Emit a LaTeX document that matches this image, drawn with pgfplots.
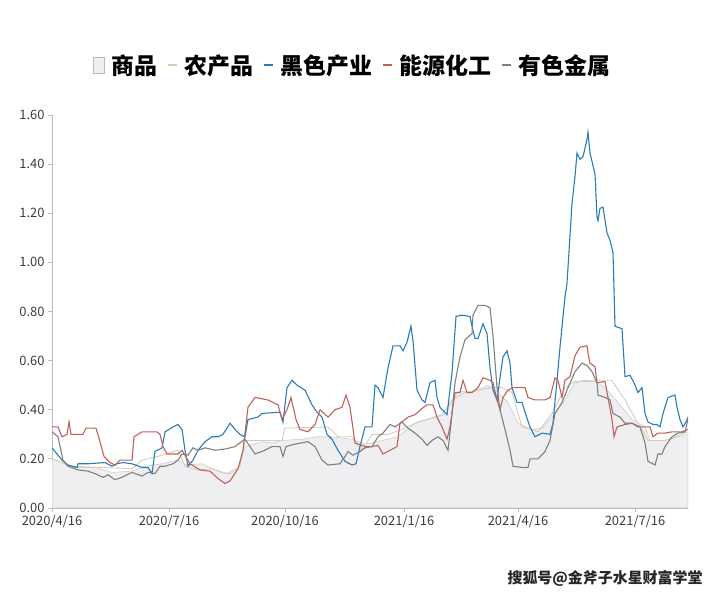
\documentclass[border=0pt]{standalone}
\usepackage{pgfplots}
\pgfplotsset{compat=1.18}
\usepackage{fontspec}
\setmainfont{Noto Sans CJK SC}
\definecolor{cblue}{RGB}{40,124,184}
\definecolor{cred}{RGB}{190,98,90}
\definecolor{cgray}{RGB}{128,128,128}
\definecolor{clight}{RGB}{214,206,180}
\definecolor{areafill}{RGB}{239,239,241}
\definecolor{areaedge}{RGB}{205,205,208}
\definecolor{axisgray}{RGB}{190,190,190}
\definecolor{labgray}{RGB}{60,60,60}
\begin{document}
\begin{tikzpicture}
\path[use as bounding box] (0,0) rectangle (720bp,598bp);
\begin{axis}[
  at={(52bp,90bp)}, anchor=south west, scale only axis,
  width=636bp, height=393bp,
  xmin=0, xmax=636, ymin=0, ymax=1.6,
  axis x line=bottom, axis y line=left,
  axis line style={draw=axisgray, line width=0.8bp, -},
  tick style={draw=axisgray, line width=0.8bp},
  tick align=outside, major tick length=4bp,
  xtick={0,117,233,352,466,583},
  xticklabels={2020/4/16,2020/7/16,2020/10/16,2021/1/16,2021/4/16,2021/7/16},
  ytick={0,0.2,0.4,0.6,0.8,1.0,1.2,1.4,1.6},
  yticklabel style={/pgf/number format/.cd, fixed, fixed zerofill, precision=2, assume math mode=true},
  ticklabel style={font=\fontsize{13}{15}\selectfont, text=labgray},
  legend style={at={(0.472,1.127)}, anchor=center, draw=none, fill=none,
    legend columns=-1, font=\fontsize{23}{27}\selectfont\bfseries,
    /tikz/every odd column/.append style={column sep=6bp},
    /tikz/every even column/.append style={column sep=9bp},
    nodes={inner sep=1bp}},
]
\addplot[fill=areafill, draw=areaedge, line width=0.6bp,
  legend image code/.code={\draw[fill=areafill, draw=gray!55, line width=0.6bp] (0bp,-8bp) rectangle (11bp,8bp);}]
  table {
0 0.20
10 0.185
20 0.165
43 0.165
60 0.145
80 0.15
93 0.17
110 0.18
126 0.195
135 0.175
150 0.18
168 0.145
178 0.14
186 0.16
193 0.25
210 0.27
221 0.265
230 0.275
250 0.28
265 0.29
280 0.29
300 0.28
313 0.26
325 0.27
346 0.29
363 0.345
380 0.365
393 0.38
400 0.44
406 0.475
423 0.475
436 0.50
446 0.47
456 0.43
466 0.345
480 0.32
490 0.325
503 0.385
513 0.44
523 0.51
530 0.515
543 0.515
553 0.49
566 0.43
580 0.36
593 0.33
598 0.275
613 0.275
626 0.29
636 0.30
} \closedcycle;
\addlegendentry{商品}
\addplot[clight, line width=0.9bp,
  legend image code/.code={\draw[clight, line width=1.2bp] (0bp,0bp) -- (9bp,0bp);}]
  table {
0 0.20
20 0.17
50 0.165
80 0.16
90 0.195
106 0.21
126 0.235
133 0.17
145 0.155
160 0.16
175 0.14
188 0.17
193 0.275
230 0.275
233 0.325
276 0.33
286 0.29
300 0.29
310 0.235
320 0.30
336 0.30
350 0.32
366 0.35
390 0.38
400 0.44
413 0.47
440 0.49
450 0.49
460 0.47
470 0.33
480 0.32
486 0.31
500 0.385
513 0.49
523 0.515
536 0.52
560 0.52
563 0.50
573 0.44
583 0.365
596 0.275
613 0.275
636 0.31
};
\addlegendentry{农产品}
\addplot[cblue, line width=1.1bp,
  legend image code/.code={\draw[cblue, line width=1.2bp] (0bp,0bp) -- (9bp,0bp);}]
  table {
0 0.245
5 0.22
10 0.195
16 0.175
25 0.165
26 0.18
36 0.18
53 0.185
60 0.17
65 0.18
71 0.185
80 0.18
90 0.165
96 0.165
100 0.14
103 0.23
110 0.245
113 0.31
121 0.33
126 0.34
130 0.32
133 0.235
136 0.17
141 0.195
146 0.235
153 0.27
160 0.29
166 0.29
171 0.30
178 0.345
183 0.32
188 0.30
193 0.29
196 0.36
206 0.37
210 0.385
228 0.39
231 0.35
235 0.49
240 0.52
245 0.50
253 0.48
260 0.42
265 0.39
270 0.37
275 0.30
280 0.28
286 0.235
293 0.19
300 0.175
304 0.18
308 0.25
313 0.33
320 0.33
323 0.50
326 0.49
331 0.45
336 0.57
341 0.66
348 0.66
351 0.64
355 0.675
359 0.74
361 0.68
365 0.48
370 0.44
373 0.43
378 0.51
383 0.52
385 0.45
388 0.41
395 0.38
400 0.55
404 0.78
410 0.785
418 0.78
420 0.74
423 0.69
426 0.69
431 0.75
435 0.71
438 0.57
441 0.48
445 0.44
448 0.53
451 0.615
455 0.64
458 0.59
460 0.49
465 0.43
470 0.43
473 0.39
478 0.33
483 0.29
490 0.305
498 0.30
501 0.345
505 0.52
508 0.655
513 0.86
515 0.915
520 1.24
523 1.35
525 1.445
528 1.42
531 1.43
535 1.50
536 1.53
538 1.445
543 1.36
545 1.185
546 1.17
548 1.22
551 1.225
555 1.12
558 1.09
561 1.04
563 0.74
570 0.73
573 0.535
578 0.54
582 0.51
586 0.47
590 0.49
593 0.385
596 0.35
601 0.34
605 0.34
608 0.33
611 0.385
616 0.45
623 0.46
625 0.41
628 0.36
631 0.33
634 0.35
636 0.37
};
\addlegendentry{黑色产业}
\addplot[cred, line width=1.1bp,
  legend image code/.code={\draw[cred, line width=1.2bp] (0bp,0bp) -- (9bp,0bp);}]
  table {
0 0.33
6 0.33
10 0.29
15 0.30
17 0.35
19 0.30
31 0.30
34 0.325
44 0.325
48 0.27
52 0.21
58 0.185
63 0.175
68 0.195
80 0.195
82 0.29
90 0.31
105 0.31
108 0.30
111 0.25
115 0.22
126 0.22
130 0.235
138 0.18
148 0.155
158 0.15
166 0.12
173 0.10
178 0.11
186 0.16
191 0.235
196 0.41
203 0.45
216 0.44
226 0.42
230 0.36
235 0.40
239 0.45
244 0.36
248 0.32
256 0.31
263 0.34
268 0.40
276 0.37
283 0.40
290 0.41
294 0.46
298 0.41
303 0.265
313 0.25
320 0.25
326 0.255
331 0.22
338 0.235
345 0.25
348 0.345
356 0.37
363 0.38
370 0.405
375 0.42
381 0.42
385 0.37
390 0.33
395 0.28
398 0.33
403 0.47
408 0.47
411 0.52
415 0.47
420 0.47
426 0.49
431 0.53
438 0.52
441 0.51
445 0.44
448 0.40
451 0.45
456 0.48
461 0.49
473 0.49
476 0.45
483 0.44
493 0.44
498 0.45
503 0.53
506 0.52
510 0.45
513 0.52
518 0.535
523 0.62
528 0.655
535 0.66
536 0.63
538 0.59
543 0.575
545 0.51
553 0.515
556 0.45
560 0.36
562 0.29
565 0.33
573 0.34
580 0.345
586 0.33
593 0.33
598 0.33
601 0.29
606 0.305
613 0.305
620 0.31
630 0.31
636 0.32
};
\addlegendentry{能源化工}
\addplot[cgray, line width=1.1bp,
  legend image code/.code={\draw[cgray, line width=1.2bp] (0bp,0bp) -- (9bp,0bp);}]
  table {
0 0.31
6 0.29
11 0.195
16 0.17
26 0.155
36 0.15
43 0.14
51 0.125
56 0.135
63 0.115
70 0.125
80 0.145
90 0.13
96 0.145
103 0.14
108 0.17
113 0.17
121 0.18
126 0.195
130 0.22
136 0.215
141 0.245
146 0.235
153 0.245
163 0.235
173 0.24
183 0.25
193 0.28
198 0.25
203 0.22
210 0.23
220 0.25
228 0.25
231 0.21
234 0.25
243 0.26
256 0.27
263 0.25
270 0.195
276 0.175
288 0.18
293 0.21
296 0.23
301 0.215
308 0.23
313 0.245
320 0.25
326 0.29
331 0.305
338 0.34
343 0.33
350 0.35
356 0.325
363 0.305
370 0.28
375 0.255
380 0.275
386 0.29
391 0.275
396 0.235
399 0.345
403 0.51
408 0.615
413 0.685
420 0.71
421 0.785
426 0.825
433 0.825
438 0.815
441 0.70
445 0.49
448 0.40
453 0.32
458 0.235
461 0.17
470 0.165
476 0.165
478 0.20
486 0.20
493 0.23
498 0.275
503 0.385
510 0.43
516 0.49
523 0.555
530 0.59
535 0.58
540 0.555
545 0.51
546 0.46
553 0.45
558 0.44
561 0.385
568 0.37
573 0.345
580 0.345
588 0.33
593 0.265
596 0.19
603 0.175
606 0.22
610 0.22
613 0.25
620 0.29
626 0.305
633 0.31
636 0.36
};
\addlegendentry{有色金属}
\end{axis}
\node[anchor=east, font=\fontsize{15}{18}\selectfont\bfseries, text=black!85] at (706bp,20bp) {搜狐号@金斧子水星财富学堂};
\end{tikzpicture}
\end{document}
